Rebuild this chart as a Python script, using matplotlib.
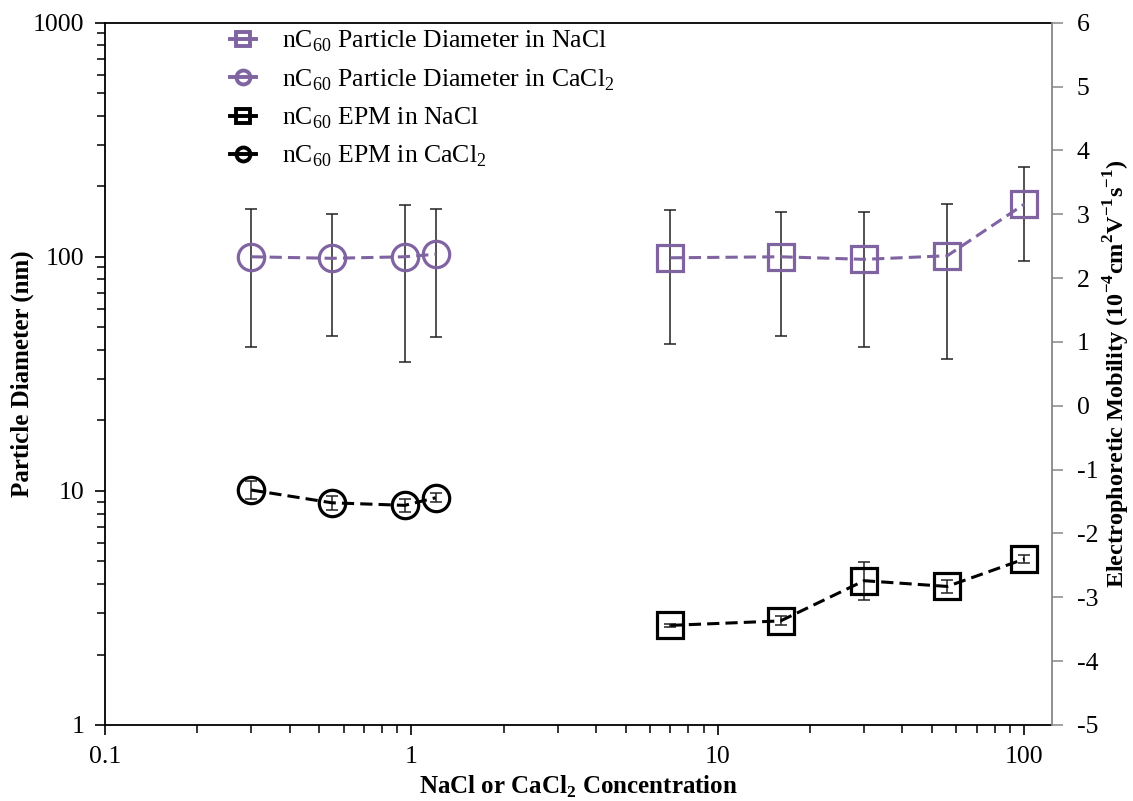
import matplotlib
matplotlib.use("Agg")
import matplotlib.pyplot as plt
from matplotlib.lines import Line2D
from matplotlib.ticker import LogLocator, FixedLocator, NullFormatter, FuncFormatter

plt.rcParams['font.family'] = ['Liberation Serif', 'DejaVu Serif']
plt.rcParams['mathtext.fontset'] = 'custom'
plt.rcParams['mathtext.rm'] = 'Liberation Serif'
plt.rcParams['mathtext.bf'] = 'Liberation Serif:bold'
plt.rcParams['axes.unicode_minus'] = False

# CaCl2 series
ca_conc = [0.3, 0.55, 0.95, 1.2]
ca_diam = [100, 98.5, 100, 102.5]
ca_diam_lo = [41, 46, 35.6, 45.6]
ca_diam_hi = [160, 152, 166, 160]
ca_epm = [-1.32, -1.52, -1.56, -1.44]
ca_epm_err = [0.14, 0.11, 0.10, 0.07]

# NaCl series
na_conc = [7, 16, 30, 56, 100]
na_diam = [99, 100, 97.5, 101, 168]
na_diam_lo = [42.5, 46, 41, 36.5, 96]
na_diam_hi = [158, 156, 156, 168, 242]
na_epm = [-3.44, -3.37, -2.74, -2.83, -2.40]
na_epm_err = [0.02, 0.07, 0.30, 0.10, 0.07]

x_ticks = [0.1, 1, 10, 100]
y_ticks = [1, 10, 100, 1000]
epm_ticks = list(range(-5, 7))

purple = '#8064A2'
ms = 19
mew = 2.3
lw = 2.2

fig = plt.figure(figsize=(11.33, 8.01), dpi=100)
ax = fig.add_axes([0.0927, 0.0949, 0.8358, 0.8768])
ax2 = ax.twinx()


def yerr(v, lo, hi):
    return [[a - b for a, b in zip(v, lo)], [c - a for a, c in zip(v, hi)]]


# particle diameter (left axis)
for conc, d, lo, hi, mk in [(na_conc, na_diam, na_diam_lo, na_diam_hi, 's'),
                            (ca_conc, ca_diam, ca_diam_lo, ca_diam_hi, 'o')]:
    ax.errorbar(conc, d, yerr=yerr(d, lo, hi), fmt='none', ecolor='#222222',
                elinewidth=1.1, capsize=4, capthick=1.1, zorder=2)
    ax.plot(conc, d, color=purple, ls='--', dashes=(4, 2), lw=lw, marker=mk,
            ms=ms, mfc='none', mec=purple, mew=mew, zorder=3)

# electrophoretic mobility (right axis)
for conc, e, err, mk in [(na_conc, na_epm, na_epm_err, 's'),
                         (ca_conc, ca_epm, ca_epm_err, 'o')]:
    ax2.errorbar(conc, e, yerr=err, fmt='none', ecolor='#222222',
                 elinewidth=1.1, capsize=4, capthick=1.1, zorder=2)
    ax2.plot(conc, e, color='black', ls='--', dashes=(4, 2), lw=lw, marker=mk,
             ms=ms, mfc='none', mec='black', mew=mew, zorder=3)

ax.set_xscale('log')
ax.set_yscale('log')
ax.set_xlim(0.1, 123)
ax.set_ylim(1, 1000)
ax2.set_ylim(-5, 6)

fmt = FuncFormatter(lambda v, p: ('%g' % v))
ax.xaxis.set_major_locator(FixedLocator(x_ticks))
ax.xaxis.set_major_formatter(fmt)
ax.xaxis.set_minor_locator(LogLocator(base=10, subs=range(2, 10)))
ax.xaxis.set_minor_formatter(NullFormatter())
ax.yaxis.set_major_locator(FixedLocator(y_ticks))
ax.yaxis.set_major_formatter(fmt)
ax.yaxis.set_minor_locator(LogLocator(base=10, subs=range(2, 10)))
ax.yaxis.set_minor_formatter(NullFormatter())
ax2.yaxis.set_major_locator(FixedLocator(epm_ticks))

ax.tick_params(axis='both', which='major', direction='out', length=7,
               width=1.2, labelsize=18.5, pad=8)
ax.tick_params(axis='both', which='minor', direction='out', length=6, width=1.1)
ax2.tick_params(axis='y', direction='out', length=8, width=1.1, color='#888888',
                labelsize=18.5, pad=10)

for s in ['left', 'bottom', 'top']:
    ax.spines[s].set_linewidth(1.3)
ax.spines['right'].set_visible(False)
ax2.spines['right'].set_color('#888888')
ax2.spines['right'].set_linewidth(1.3)
for s in ['left', 'bottom', 'top']:
    ax2.spines[s].set_visible(False)

ax.set_xlabel(r'NaCl or CaCl$_{\mathbf{2}}$ Concentration', fontsize=18,
              fontweight='bold', labelpad=4)
ax.set_ylabel('Particle Diameter (nm)', fontsize=18, fontweight='bold')
ax.yaxis.set_label_coords(-0.075, 0.5)
ax2.set_ylabel(r'Electrophoretic Mobility (10$^{\mathbf{-4}}$cm$^{\mathbf{2}}$'
               r'V$^{\mathbf{-1}}$s$^{\mathbf{-1}}$)', fontsize=17.5,
               fontweight='bold')
ax2.yaxis.set_label_coords(1.052, 0.5)

# legend handles: short solid stub through a small hollow marker
handles = []
for c, mk in [(purple, 's'), (purple, 'o'), ('black', 's'), ('black', 'o')]:
    handles.append(Line2D([], [], color=c, ls='-', lw=2.8, marker=mk, ms=10,
                          mfc='none', mec=c, mew=2.8))
labels = [
    r'nC$_{\mathregular{60}}$ Particle Diameter in NaCl',
    r'nC$_{\mathregular{60}}$ Particle Diameter in CaCl$_{\mathregular{2}}$',
    r'nC$_{\mathregular{60}}$ EPM in NaCl',
    r'nC$_{\mathregular{60}}$ EPM in CaCl$_{\mathregular{2}}$',
]
ax2.legend(handles, labels, loc='upper left', bbox_to_anchor=(0.108, 1.024),
           frameon=False, fontsize=18.5, handlelength=1.0, handletextpad=1.0,
           labelspacing=0.5)

fig.savefig('out.png', dpi=100)
